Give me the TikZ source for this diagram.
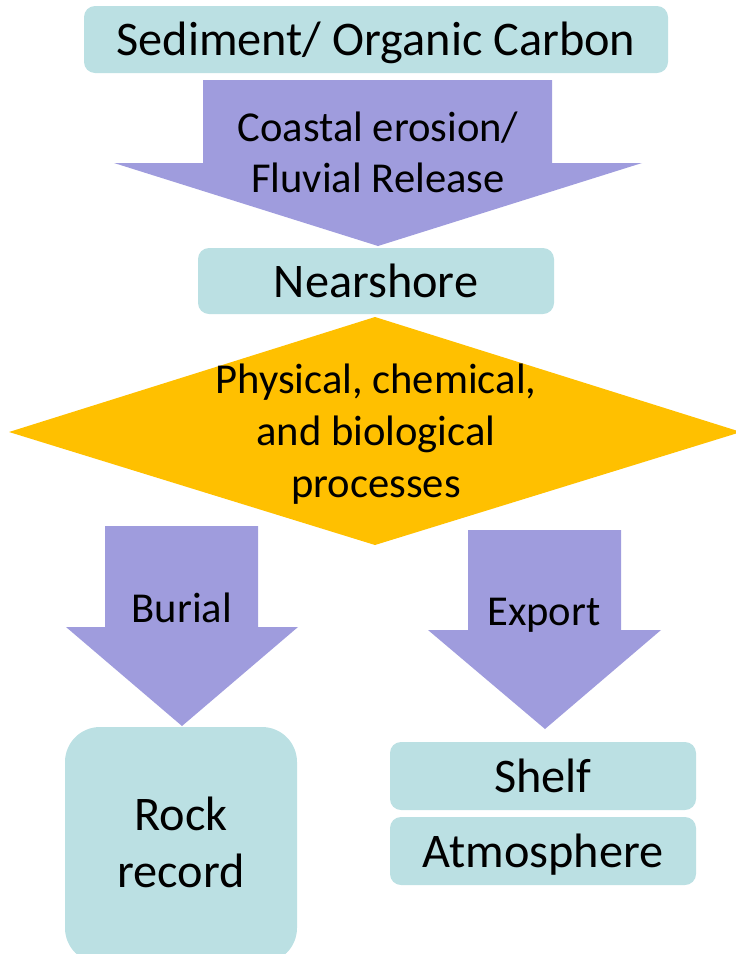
\documentclass[tikz,border=0pt]{standalone}
\usepackage{fontspec}
\setmainfont{Carlito}
\definecolor{boxfill}{HTML}{BBE0E3}
\definecolor{arrowfill}{HTML}{9F9CDD}
\definecolor{diafill}{HTML}{FFC000}
\begin{document}
\begin{tikzpicture}[x=1pt,y=-1pt,
  box/.style={fill=boxfill, draw=none, rounded corners=11pt, inner sep=0pt},
  blockarrow/.style={fill=arrowfill, draw=none},
  bigtext/.style={font=\fontsize{48.3}{57}\selectfont, anchor=base, inner sep=0pt},
  midtext/.style={font=\fontsize{42.6}{51}\selectfont, anchor=base, inner sep=0pt}]
\useasboundingbox (0,0) rectangle (736,954);
\clip (0,0) rectangle (736,954);
% boxes
\node[box, minimum width=584pt, minimum height=67pt] (sed) at (376,39.5) {};
\node[box, minimum width=356pt, minimum height=66pt] (near) at (376,281) {};
\node[box, rounded corners=35pt, minimum width=232pt, minimum height=236pt] (rock) at (181,845) {};
\node[box, minimum width=306pt, minimum height=68pt] (shelf) at (543,776) {};
\node[box, minimum width=306pt, minimum height=68pt] (atm) at (543,851) {};
% diamond
\fill[diafill] (375,317) -- (741,432) -- (375,545) -- (9,432) -- cycle;
% block arrows
\fill[blockarrow] (203,80) -- (552,80) -- (552,163) -- (642,163) -- (378,246) -- (114,163) -- (203,163) -- cycle;
\fill[blockarrow] (105,526) -- (258,526) -- (258,627) -- (298,627) -- (182,726) -- (66,627) -- (105,627) -- cycle;
\fill[blockarrow] (468,530) -- (621,530) -- (621,630) -- (661,630) -- (545,729) -- (428,630) -- (468,630) -- cycle;
% texts
\node[bigtext] (tsed) at (376,55.5) {Sediment/ Organic Carbon};
\node[midtext] (tc1) at (378,141) {Coastal erosion/};
\node[midtext] (tc2) at (378,192) {Fluvial Release};
\node[bigtext] (tnear) at (376,297) {Nearshore};
\node[midtext] (td1) at (376,393) {Physical, chemical,};
\node[midtext] (td2) at (376,445) {and biological};
\node[midtext] (td3) at (376,497) {processes};
\node[midtext] (tbur) at (182,622) {Burial};
\node[midtext] (texp) at (544,625) {Export};
\node[bigtext] (trock1) at (181,830) {Rock};
\node[bigtext] (trock2) at (181,887) {record};
\node[bigtext] (tshelf) at (543,792) {Shelf};
\node[bigtext] (tatm) at (543,867) {Atmosphere};
\end{tikzpicture}
\end{document}
